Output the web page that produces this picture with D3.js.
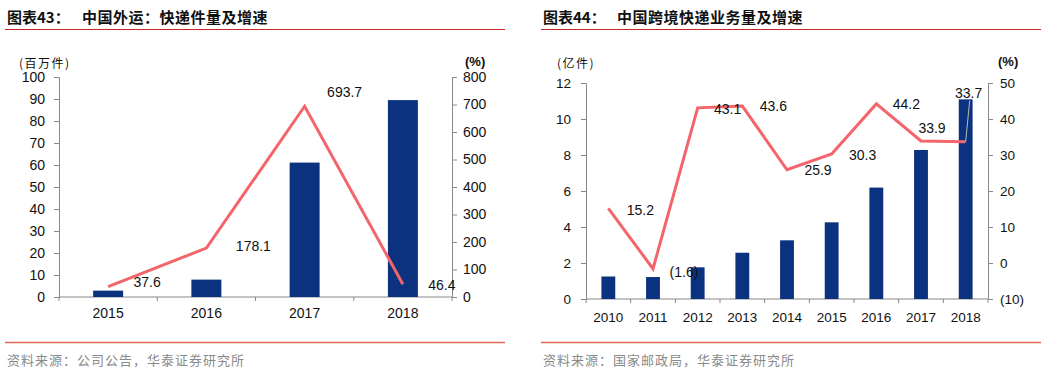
<!DOCTYPE html>
<html><head><meta charset="utf-8">
<script src="https://cdn.jsdelivr.net/npm/d3@7"></script>
<style>
body{margin:0;background:#fff;}
svg{display:block;}
</style></head>
<body>
<svg id="c" width="1062" height="375"></svg>
<script>
// ---- Data ----
const years1 = ["2015","2016","2017","2018"];
const volume1 = [2.9, 7.9, 61.1, 89.5];          // 百万件
const growth1 = [37.6, 178.1, 693.7, 46.4];      // %
const growthLabels1 = ["37.6","178.1","693.7","46.4"];
const leftTicks1 = [0,10,20,30,40,50,60,70,80,90,100];
const rightTicks1 = [0,100,200,300,400,500,600,700,800];

const years2 = ["2010","2011","2012","2013","2014","2015","2016","2017","2018"];
const volume2 = [1.25, 1.22, 1.76, 2.57, 3.26, 4.26, 6.19, 8.28, 11.09]; // 亿件
const growth2 = [15.2, -1.6, 43.1, 43.6, 25.9, 30.3, 44.2, 33.9, 33.7];  // %
const growthLabels2 = ["15.2","(1.6)","43.1","43.6","25.9","30.3","44.2","33.9","33.7"];
const leftTicks2 = [0,2,4,6,8,10,12];
const rightTicks2 = [-10,0,10,20,30,40,50];

// label offsets (style/placement)
const off1 = [[39,-5],[47,-2],[40,-14],[39,1]];
const off2 = [[32,2],[31,3],[30,1],[31,0],[31,0],[31,1],[30,0],[11,-13],[3,-49]];

const BAR = "#0B327E", LINE = "#F4646B", AXIS = "#888";
const NUM = "'Liberation Sans', Arial, sans-serif";
const CJK = "'Noto Sans CJK SC', sans-serif";
const svg = d3.select("#c");

function header(x0, x1, fig, title, tx){
  svg.append("text").attr("x", x0+2).attr("y", 23)
    .attr("font-family", CJK).attr("font-weight", "bold").attr("font-size", 15)
    .attr("fill", "#111").text(fig);
  svg.append("text").attr("x", tx).attr("y", 23)
    .attr("font-family", CJK).attr("font-weight", "bold").attr("font-size", 15)
    .attr("letter-spacing", 0.5).attr("fill", "#111").text(title);
  svg.append("line").attr("x1", x0).attr("x2", x1).attr("y1", 29.5).attr("y2", 29.5)
    .attr("stroke", "#C8262B").attr("stroke-width", 1.2);
}
function footer(x0, x1, src){
  svg.append("line").attr("x1", x0).attr("x2", x1).attr("y1", 342.5).attr("y2", 342.5)
    .attr("stroke", "#E0684E").attr("stroke-width", 1.3);
  svg.append("text").attr("x", x0+2).attr("y", 365)
    .attr("font-family", CJK).attr("font-size", 13).attr("letter-spacing", 1.0)
    .attr("fill", "#8a8a8a").text(src);
}

function chart(o){
  const x = d3.scaleBand().domain(o.years).range([o.xl, o.xr]).padding(0);
  const yL = d3.scaleLinear().domain(o.lDom).range([o.yb, o.yt]);
  const yR = d3.scaleLinear().domain(o.rDom).range([o.yb, o.yt]);
  const g = svg.append("g");

  const styleAxis = (sel) => {
    sel.selectAll("path,line").attr("stroke", AXIS).attr("stroke-width", 1);
    sel.selectAll("text").attr("font-family", NUM).attr("font-size", o.fs).attr("fill", "#111");
  };

  g.append("g").attr("transform", `translate(${o.xl},0)`)
    .call(d3.axisLeft(yL).tickValues(o.lTicks).tickSize(5).tickSizeOuter(5).tickPadding(o.lPad))
    .call(styleAxis);
  g.append("g").attr("transform", `translate(${o.xr},0)`)
    .call(d3.axisRight(yR).tickValues(o.rTicks).tickSize(5).tickSizeOuter(5).tickPadding(o.rPad)
      .tickFormat(d => d < 0 ? `(${Math.abs(d)})` : d))
    .call(styleAxis);

  // x axis line with ticks at band boundaries
  const xa = g.append("g").attr("transform", `translate(0,${o.yb})`);
  xa.append("line").attr("x1", o.xl).attr("x2", o.xr).attr("stroke", AXIS);
  o.years.forEach((d) => {
    xa.append("line").attr("x1", x(d)).attr("x2", x(d)).attr("y1", 0).attr("y2", 4).attr("stroke", AXIS);
  });
  xa.append("line").attr("x1", o.xr).attr("x2", o.xr).attr("y1", 0).attr("y2", 4).attr("stroke", AXIS);
  o.years.forEach((d) => {
    xa.append("text").attr("x", x(d) + x.bandwidth()/2).attr("y", o.xLabY)
      .attr("text-anchor", "middle").attr("dominant-baseline", "central")
      .attr("font-family", NUM).attr("font-size", o.fs).attr("fill", "#111").text(d);
  });

  const bw = x.bandwidth()*o.barFrac;
  g.selectAll(".bar").data(o.vol).enter().append("rect")
    .attr("x", (d,i) => x(o.years[i]) + x.bandwidth()/2 - bw/2)
    .attr("y", d => yL(d)).attr("width", bw).attr("height", d => yL(0) - yL(d))
    .attr("fill", BAR);

  const cx = (i) => x(o.years[i]) + x.bandwidth()/2;
  const line = d3.line().x((d,i) => cx(i)).y(d => yR(d));
  g.append("path").datum(o.gr).attr("d", line).attr("fill", "none")
    .attr("stroke", LINE).attr("stroke-width", 3).attr("stroke-linejoin", "miter");

  if (o.leader != null) {
    const i = o.leader;
    g.append("line").attr("x1", cx(i)).attr("y1", yR(o.gr[i]))
      .attr("x2", cx(i) + o.off[i][0] + 1).attr("y2", yR(o.gr[i]) + o.off[i][1] + 8)
      .attr("stroke", "#b8b8b8").attr("stroke-width", 1);
  }

  o.gr.forEach((d,i) => {
    g.append("text").attr("x", cx(i) + o.off[i][0]).attr("y", yR(d) + o.off[i][1])
      .attr("text-anchor", "middle").attr("dominant-baseline", "central")
      .attr("font-family", NUM).attr("font-size", 14).attr("fill", "#111").text(o.labels[i]);
  });

  svg.append("text").attr("x", o.unitLx).attr("y", 62).attr("dominant-baseline", "central")
    .attr("font-family", CJK).attr("font-size", 12).attr("letter-spacing", 1.5)
    .attr("fill", "#111").text(o.unitL);
  svg.append("text").attr("x", o.unitRx).attr("y", 61).attr("dominant-baseline", "central")
    .attr("font-family", NUM).attr("font-weight", "bold").attr("font-size", 13).attr("fill", "#111").text("(%)");
}

header(5, 505, "图表43：", "中国外运：快递件量及增速", 82);
header(541, 1041, "图表44：", "中国跨境快递业务量及增速", 617);

chart({years: years1, vol: volume1, gr: growth1, labels: growthLabels1, off: off1,
  xl: 59, xr: 452, yb: 297, yt: 77, lDom: [0,100], rDom: [0,800],
  lTicks: leftTicks1, rTicks: rightTicks1, lPad: 9, rPad: 6, fs: 14, xLabY: 16,
  barFrac: 0.305, leader: null, unitL: "(百万件)", unitLx: 19, unitRx: 465});

chart({years: years2, vol: volume2, gr: growth2, labels: growthLabels2, off: off2,
  xl: 586, xr: 988, yb: 299, yt: 83, lDom: [0,12], rDom: [-10,50],
  lTicks: leftTicks2, rTicks: rightTicks2, lPad: 10, rPad: 7, fs: 13.5, xLabY: 18,
  barFrac: 0.31, leader: 8, unitL: "(亿件)", unitLx: 557, unitRx: 998});

footer(5, 505, "资料来源：公司公告，华泰证券研究所");
footer(541, 1041, "资料来源：国家邮政局，华泰证券研究所");
</script>
</body></html>
